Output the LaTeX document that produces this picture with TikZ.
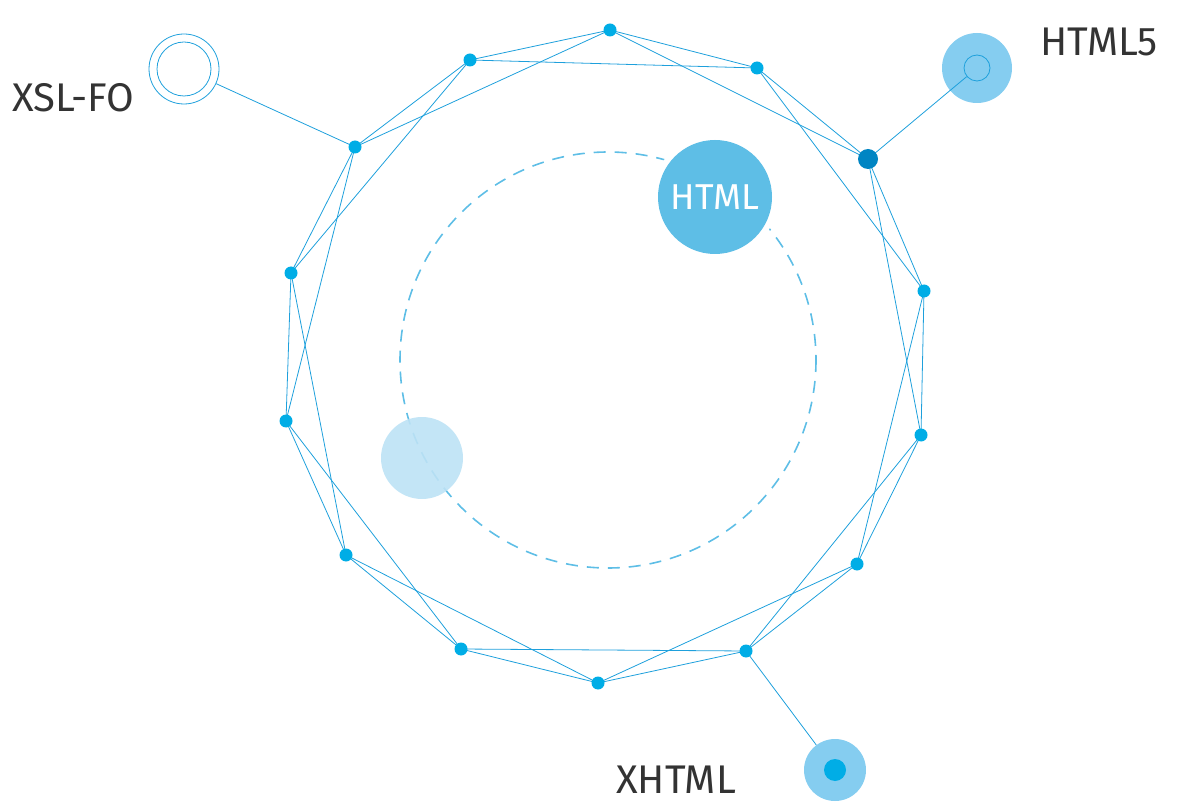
\documentclass[tikz,border=0pt]{standalone}
\usepackage{fontspec}
\setmainfont{Fira Sans}
\definecolor{lb}{HTML}{1EA0DC}
\definecolor{dot}{HTML}{00ADE6}
\definecolor{dk}{HTML}{0085C3}
\definecolor{mid}{HTML}{5EBEE6}
\definecolor{pale}{HTML}{BDE2F5}
\definecolor{h5}{HTML}{85CDF0}
\definecolor{tx}{HTML}{333333}
\begin{document}
\begin{tikzpicture}[x=1pt,y=-1pt,
  edge/.style={draw=lb,line width=0.8pt},
  pt/.style={circle,fill=dot,inner sep=0pt,minimum size=13pt},
  lbl/.style={text=tx,font=\fontsize{40}{40}\selectfont,inner sep=0pt}]
\useasboundingbox (0,0) rectangle (1200,810);
\draw[mid,line width=1.6pt,dash pattern=on 12pt off 9pt] (608,360) circle[radius=208];
\foreach \i/\x/\y in {1/610/30,2/757/68,3/868/159,4/924/291,5/921/435,6/857/564,7/746/651,8/598/683,9/461/649,10/346/555,11/286/421,12/291/273,13/355/147,14/470/60}
  \coordinate (c\i) at (\x,\y);
\foreach \a/\b in {1/2,2/3,3/4,4/5,5/6,6/7,7/8,8/9,9/10,10/11,11/12,12/13,13/14,14/1,
  1/3,2/4,3/5,4/6,5/7,6/8,7/9,8/10,9/11,10/12,11/13,12/14,13/1,14/2}
  \draw[edge] (c\a) -- (c\b);
% satellites
\node[circle,draw=lb,line width=0.8pt,minimum size=70pt,inner sep=0pt] (xsl) at (184,69) {};
\node[circle,draw=lb,line width=0.8pt,minimum size=54pt,inner sep=0pt] (xsli) at (184,69) {};
\node[circle,fill=h5,minimum size=70pt,inner sep=0pt] (h5) at (977,68) {};
\node[circle,draw=lb,line width=0.8pt,minimum size=26pt,inner sep=0pt] (h5i) at (977,68) {};
\node[circle,fill=h5,minimum size=62pt,inner sep=0pt] (xh) at (835,770) {};
\node[circle,fill=dot,minimum size=22pt,inner sep=0pt] (xhi) at (835,770) {};
\draw[edge] (xsl) -- (c13);
\draw[edge] (h5i) -- (c3);
\draw[edge] (c7) -- (xh);
\foreach \i in {1,2,4,5,6,7,8,9,10,11,12,13,14} \node[pt] (n\i) at (c\i) {};
\node[circle,fill=dk,inner sep=0pt,minimum size=20pt] (n3) at (c3) {};
% inner circles
\node[circle,fill=white,minimum size=126pt,inner sep=0pt] at (715,197) {};
\node[circle,fill=mid,minimum size=114pt,inner sep=0pt,text=white,font=\fontsize{36}{36}\selectfont] (html) at (715,197) {HTML};
\node[circle,fill=pale,opacity=0.9,minimum size=82pt,inner sep=0pt] (lt) at (422,458) {};
% labels
\node[lbl,anchor=west] (t1) at (12,98) {XSL-FO};
\node[lbl,anchor=west] (t2) at (1040,42) {HTML5};
\node[lbl,anchor=west] (t3) at (616,780) {XHTML};
\end{tikzpicture}
\end{document}
